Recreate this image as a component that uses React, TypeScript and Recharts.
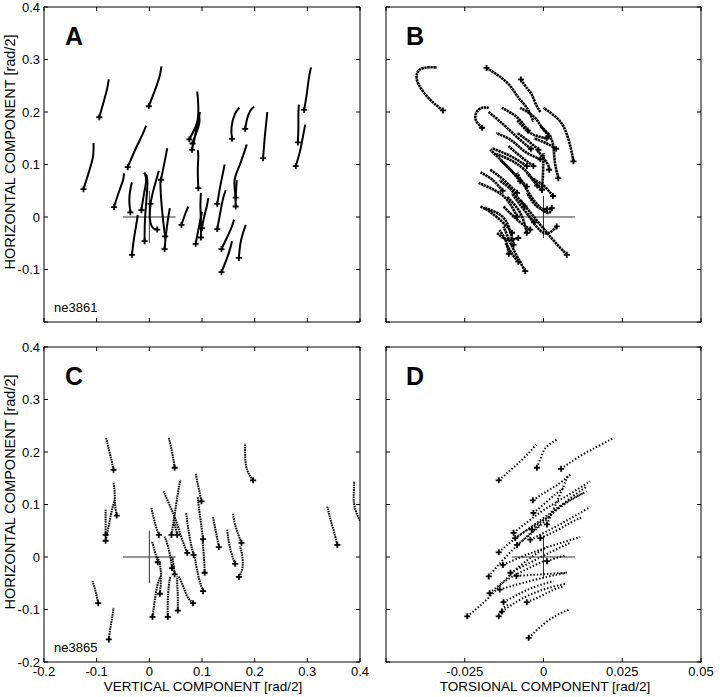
import React from "react";
import { LineChart, Line, XAxis, YAxis } from "recharts";

type Pt = [number, number];

/* ============================================================
   AXES
   ============================================================ */

const compTicks = [-0.2, -0.1, 0, 0.1, 0.2, 0.3, 0.4];
const torsTicks = [-0.05, -0.025, 0, 0.025, 0.05];

// small cross marking the origin (horizontal arm, vertical arm)
const crossCompH: Pt[] = [[-0.05, 0], [0.05, 0]];
const crossCompV: Pt[] = [[0, -0.05], [0, 0.05]];
const crossTorsH: Pt[] = [[-0.01, 0], [0.01, 0]];
const crossTorsV: Pt[] = [[0, -0.04], [0, 0.04]];

/* ============================================================
   TRACES — first point of each trace carries the "+" marker
   ============================================================ */

// A: vertical vs horizontal, ne3861
const tracesA: Pt[][] = [
  [[-0.125, 0.053], [-0.115, 0.085], [-0.107, 0.115], [-0.106, 0.141]],
  [[-0.095, 0.19], [-0.086, 0.222], [-0.08, 0.245], [-0.077, 0.262]],
  [[-0.001, 0.211], [0.012, 0.245], [0.02, 0.27], [0.023, 0.287]],
  [[-0.041, 0.095], [-0.026, 0.13], [-0.014, 0.155], [-0.006, 0.174]],
  [[-0.067, 0.019], [-0.057, 0.05], [-0.05, 0.07], [-0.048, 0.083]],
  [[-0.036, 0.009], [-0.038, 0.035], [-0.035, 0.058], [-0.033, 0.066]],
  [[-0.015, 0.013], [-0.01, 0.045], [-0.006, 0.07], [-0.009, 0.084]],
  [[-0.033, -0.072], [-0.029, -0.04], [-0.024, -0.01], [-0.022, 0.004]],
  [[-0.009, -0.046], [-0.008, 0.0], [-0.004, 0.055], [-0.005, 0.078], [-0.01, 0.084]],
  [[0.002, 0.025], [0.007, 0.048], [0.013, 0.07], [0.018, 0.088]],
  [[0.015, -0.024], [0.006, -0.02], [0.001, -0.002], [0.002, 0.025]],
  [[0.022, 0.071], [0.027, 0.095], [0.031, 0.115], [0.034, 0.131]],
  [[0.03, -0.037], [0.026, -0.005], [0.022, 0.04], [0.021, 0.068]],
  [[0.029, -0.061], [0.032, -0.03], [0.036, 0.0], [0.039, 0.017]],
  [[0.061, -0.015], [0.066, 0.0], [0.071, 0.013], [0.074, 0.02]],
  [[0.081, 0.128], [0.088, 0.16], [0.093, 0.2], [0.091, 0.239]],
  [[0.076, 0.148], [0.087, 0.17], [0.094, 0.19], [0.096, 0.2]],
  [[0.082, 0.14], [0.089, 0.16], [0.095, 0.18], [0.094, 0.198]],
  [[0.093, 0.055], [0.092, 0.09], [0.093, 0.115], [0.092, 0.128]],
  [[0.098, -0.039], [0.098, -0.01], [0.097, 0.02], [0.098, 0.046]],
  [[0.1, -0.021], [0.104, 0.0], [0.109, 0.02], [0.112, 0.036]],
  [[0.088, -0.051], [0.092, -0.03], [0.096, -0.01], [0.1, 0.01]],
  [[0.129, 0.025], [0.134, 0.055], [0.139, 0.08], [0.143, 0.1]],
  [[0.129, -0.023], [0.135, 0.01], [0.14, 0.035], [0.145, 0.051]],
  [[0.137, -0.061], [0.147, -0.04], [0.156, -0.02], [0.161, -0.005]],
  [[0.137, -0.105], [0.145, -0.085], [0.152, -0.065], [0.157, -0.046]],
  [[0.17, -0.078], [0.173, -0.05], [0.178, -0.03], [0.183, -0.015]],
  [[0.157, 0.149], [0.156, 0.17], [0.162, 0.195], [0.171, 0.208]],
  [[0.182, 0.168], [0.186, 0.188], [0.192, 0.203], [0.199, 0.21]],
  [[0.216, 0.112], [0.219, 0.15], [0.222, 0.18], [0.224, 0.2]],
  [[0.278, 0.097], [0.286, 0.125], [0.292, 0.155], [0.296, 0.176]],
  [[0.282, 0.142], [0.283, 0.17], [0.283, 0.195], [0.284, 0.214]],
  [[0.294, 0.204], [0.299, 0.235], [0.303, 0.265], [0.307, 0.285]],
  [[0.164, 0.02], [0.163, 0.045], [0.162, 0.071], [0.172, 0.1], [0.185, 0.138]],
  [[0.164, 0.037], [0.165, 0.055], [0.166, 0.07]],
];

// B: torsional vs horizontal, ne3861
const tracesB: Pt[][] = [
  [[-0.0319, 0.203], [-0.0359, 0.223], [-0.0396, 0.252], [-0.0401, 0.274], [-0.038, 0.284], [-0.0338, 0.285]],
  [[-0.0181, 0.284], [-0.014, 0.268], [-0.0105, 0.249], [-0.0079, 0.227], [-0.0053, 0.208], [-0.0032, 0.182]],
  [[-0.0072, 0.262], [-0.0052, 0.245], [-0.0037, 0.233], [-0.0026, 0.217], [-0.001, 0.2]],
  [[0.0095, 0.106], [0.0085, 0.135], [0.0063, 0.173], [0.003, 0.195], [0.0, 0.208]],
  [[-0.0195, 0.17], [-0.0215, 0.185], [-0.0212, 0.2], [-0.0195, 0.208], [-0.0174, 0.208]],
  [[-0.004, 0.13], [-0.008, 0.15], [-0.0125, 0.175], [-0.0174, 0.2]],
  [[-0.005, 0.165], [-0.0084, 0.19], [-0.0132, 0.208]],
  [[0.0016, 0.154], [-0.001, 0.175], [-0.0032, 0.192], [-0.0074, 0.208]],
  [[0.0047, 0.074], [0.0035, 0.11], [0.0026, 0.147], [-0.001, 0.173]],
  [[-0.0053, 0.097], [-0.0105, 0.116], [-0.0164, 0.131]],
  [[-0.0074, 0.068], [-0.0116, 0.097], [-0.0169, 0.128]],
  [[0.0018, 0.09], [0.0011, 0.103], [-0.0021, 0.128]],
  [[-0.0084, 0.046], [-0.0127, 0.071], [-0.0169, 0.09]],
  [[-0.0084, 0.001], [-0.0116, 0.033], [-0.0158, 0.052], [-0.0206, 0.065]],
  [[-0.0095, -0.053], [-0.0111, -0.018], [-0.0137, 0.004], [-0.0185, 0.017]],
  [[-0.0053, -0.03], [-0.0074, 0.008], [-0.0116, 0.039]],
  [[0.0026, 0.017], [0.0011, 0.008], [-0.0032, 0.033], [-0.0084, 0.084]],
  [[0.0042, -0.018], [0.0, -0.03], [-0.0053, 0.008]],
  [[0.0074, -0.072], [0.0011, -0.03], [-0.0074, 0.033]],
  [[-0.0058, -0.103], [-0.0095, -0.062], [-0.0127, -0.018]],
  [[-0.0005, 0.052], [-0.003, 0.068], [-0.0053, 0.084]],
  [[-0.0032, 0.097], [-0.0074, 0.116], [-0.0111, 0.135]],
  [[-0.0053, 0.058], [-0.0095, 0.084], [-0.0137, 0.109]],
  [[-0.0016, 0.128], [-0.0053, 0.147], [-0.0084, 0.16]],
  [[-0.008, -0.04], [-0.0116, -0.043], [-0.0148, -0.03]],
  [[-0.0042, -0.024], [-0.0084, -0.005], [-0.0127, 0.02]],
  [[0.0011, 0.015], [-0.0021, 0.02], [-0.0053, 0.046]],
  [[-0.0005, 0.052], [-0.0002, 0.077], [0.0, 0.122]],
  [[0.001, 0.15], [-0.0042, 0.16], [-0.0084, 0.185]],
  [[-0.01, -0.03], [-0.013, -0.01], [-0.017, 0.01], [-0.02, 0.02]],
  [[-0.006, 0.02], [-0.01, 0.05], [-0.014, 0.07]],
  [[-0.002, 0.06], [-0.006, 0.09], [-0.011, 0.11], [-0.015, 0.12]],
  [[-0.003, -0.01], [-0.007, 0.02], [-0.01, 0.045]],
  [[-0.011, -0.07], [-0.012, -0.045], [-0.014, -0.025]],
  [[-0.008, -0.085], [-0.01, -0.07], [-0.012, -0.05]],
  [[0.003, 0.04], [0.0, 0.06], [-0.004, 0.075]],
  [[-0.001, 0.11], [-0.006, 0.125], [-0.01, 0.145], [-0.015, 0.16]],
  [[0.004, 0.13], [0.001, 0.14], [-0.003, 0.15]],
  [[-0.013, 0.05], [-0.016, 0.07], [-0.02, 0.085]],
];

// C: vertical vs horizontal, ne3865
const tracesC: Pt[][] = [
  [[-0.068, 0.166], [-0.072, 0.185], [-0.077, 0.205], [-0.082, 0.227]],
  [[0.048, 0.17], [0.045, 0.19], [0.041, 0.21], [0.037, 0.227]],
  [[0.197, 0.146], [0.186, 0.165], [0.182, 0.19], [0.182, 0.216]],
  [[-0.062, 0.079], [-0.065, 0.1], [-0.066, 0.125], [-0.068, 0.141]],
  [[-0.083, 0.042], [-0.083, 0.06], [-0.083, 0.075], [-0.083, 0.09]],
  [[-0.083, 0.031], [-0.078, 0.055], [-0.072, 0.085], [-0.066, 0.109]],
  [[-0.097, -0.088], [-0.101, -0.07], [-0.105, -0.055], [-0.108, -0.046]],
  [[-0.077, -0.157], [-0.074, -0.135], [-0.07, -0.112], [-0.068, -0.097]],
  [[0.018, 0.042], [0.012, 0.06], [0.007, 0.08], [0.004, 0.093]],
  [[0.016, -0.01], [0.012, 0.005], [0.008, 0.02], [0.005, 0.03]],
  [[0.02, -0.07], [0.022, -0.045], [0.021, -0.02], [0.016, 0.0]],
  [[0.006, -0.114], [0.01, -0.085], [0.015, -0.055], [0.021, -0.037]],
  [[0.035, -0.114], [0.035, -0.085], [0.037, -0.055], [0.04, -0.037]],
  [[0.054, -0.102], [0.054, -0.075], [0.053, -0.05], [0.053, -0.037]],
  [[0.083, -0.088], [0.072, -0.075], [0.064, -0.055], [0.056, -0.037]],
  [[0.043, -0.021], [0.04, 0.0], [0.034, 0.025], [0.029, 0.039]],
  [[0.048, -0.033], [0.046, -0.015], [0.044, 0.0]],
  [[0.042, 0.042], [0.048, 0.08], [0.054, 0.12], [0.059, 0.147]],
  [[0.053, 0.042], [0.05, 0.055], [0.046, 0.071]],
  [[0.072, 0.008], [0.06, 0.04], [0.05, 0.071], [0.038, 0.1], [0.027, 0.125]],
  [[0.084, 0.004], [0.078, 0.03], [0.073, 0.06], [0.07, 0.084]],
  [[0.099, 0.106], [0.094, 0.13], [0.09, 0.148], [0.088, 0.16]],
  [[0.102, 0.034], [0.098, 0.065], [0.094, 0.095], [0.092, 0.115]],
  [[0.105, -0.03], [0.104, -0.005], [0.102, 0.02], [0.101, 0.034]],
  [[0.102, -0.065], [0.094, -0.04], [0.088, -0.01], [0.086, 0.004]],
  [[0.132, 0.019], [0.128, 0.04], [0.124, 0.06], [0.121, 0.076]],
  [[0.163, -0.013], [0.155, 0.01], [0.15, 0.035], [0.148, 0.052]],
  [[0.17, -0.038], [0.177, -0.02], [0.176, 0.005], [0.172, 0.02]],
  [[0.175, 0.027], [0.168, 0.045], [0.162, 0.065], [0.159, 0.082]],
  [[0.357, 0.023], [0.35, 0.05], [0.343, 0.075], [0.338, 0.096]],
  [[0.412, 0.055], [0.399, 0.071], [0.39, 0.095], [0.388, 0.115], [0.389, 0.144]],
];

// D: torsional vs horizontal, ne3865
const tracesD: Pt[][] = [
  [[-0.0142, 0.146], [-0.01, 0.168], [-0.006, 0.19], [-0.0023, 0.214]],
  [[-0.0021, 0.17], [-0.0008, 0.19], [0.001, 0.21], [0.0047, 0.225]],
  [[0.0056, 0.168], [0.011, 0.19], [0.017, 0.21], [0.0224, 0.227]],
  [[-0.0034, 0.108], [0.001, 0.125], [0.005, 0.14], [0.0085, 0.157]],
  [[-0.0095, 0.046], [-0.001, 0.085], [0.007, 0.115], [0.0148, 0.144]],
  [[-0.009, 0.036], [-0.001, 0.07], [0.006, 0.1], [0.0137, 0.125]],
  [[-0.0042, 0.033], [0.003, 0.055], [0.009, 0.075], [0.0148, 0.095]],
  [[-0.001, 0.036], [0.004, 0.05], [0.0085, 0.065], [0.0122, 0.076]],
  [[0.0011, 0.062], [0.0035, 0.095], [0.006, 0.13], [0.0079, 0.157]],
  [[-0.0142, 0.009], [-0.009, 0.035], [-0.003, 0.06], [0.0021, 0.077]],
  [[-0.0129, -0.015], [-0.005, 0.005], [0.003, 0.022], [0.0116, 0.038]],
  [[-0.0174, -0.037], [-0.012, 0.0], [-0.006, 0.035], [-0.001, 0.062]],
  [[-0.0105, -0.03], [-0.004, -0.01], [0.0025, 0.01], [0.0085, 0.027]],
  [[0.0011, -0.008], [0.004, -0.002], [0.007, 0.003]],
  [[-0.0086, -0.036], [-0.003, -0.034], [0.002, -0.032], [0.0074, -0.03]],
  [[-0.0139, -0.062], [-0.007, -0.05], [0.001, -0.038], [0.0079, -0.029]],
  [[-0.0171, -0.069], [-0.012, -0.045], [-0.006, -0.025], [0.0, -0.008]],
  [[-0.0127, -0.086], [-0.007, -0.068], [-0.002, -0.055], [0.0032, -0.046]],
  [[-0.0132, -0.104], [-0.007, -0.08], [0.0, -0.062], [0.0069, -0.051]],
  [[-0.0053, -0.086], [-0.001, -0.075], [0.003, -0.063], [0.0063, -0.056]],
  [[-0.0242, -0.113], [-0.017, -0.075], [-0.009, -0.025], [0.0011, 0.02]],
  [[-0.0142, -0.113], [-0.0128, -0.098], [-0.011, -0.09]],
  [[-0.0047, -0.154], [0.0, -0.128], [0.0045, -0.11], [0.0082, -0.1]],
  [[-0.0084, 0.023], [-0.001, 0.06], [0.006, 0.1], [0.0137, 0.134]],
  [[-0.0037, 0.052], [0.002, 0.08], [0.0075, 0.104], [0.0127, 0.122]],
  [[-0.0032, 0.084], [0.0, 0.1], [0.0035, 0.118], [0.0069, 0.134]],
];

/* ============================================================
   SHARED CHROME
   ============================================================ */

const FONT = "'Liberation Sans', Arial, Helvetica, sans-serif";
const INK = "#000";

const toRows = (pts: Pt[]) => pts.map(([x, y]) => ({ x, y }));
const fmtAll = (v: number) => String(v);
const fmtNone = () => "";

function PlusMark(props: any) {
  const { cx, cy } = props;
  if (cx == null || cy == null) return <g />;
  return (
    <path
      d={`M${cx - 3},${cy}h6M${cx},${cy - 3}v6`}
      stroke={INK}
      strokeWidth={1.8}
      fill="none"
    />
  );
}

function Panel({
  traces,
  xDomain,
  xTicks,
  xFmt,
  yFmt,
  crossH,
  crossV,
  width,
  height,
  marginRight,
  bottomH,
  lineWidth,
  dash,
}: {
  traces: Pt[][];
  xDomain: [number, number];
  xTicks: number[];
  xFmt: (v: number) => string;
  yFmt: (v: number) => string;
  crossH: Pt[];
  crossV: Pt[];
  width: number;
  height: number;
  marginRight: number;
  bottomH: number;
  lineWidth: number;
  dash?: string;
}) {
  const tickStyle = { fill: INK, fontSize: 13, fontFamily: FONT };
  const ends = traces.map((t) => ({ x: t[0][0], y: t[0][1] }));
  return (
    <LineChart
      width={width}
      height={height}
      margin={{ top: 6, right: marginRight, bottom: 0, left: 0 }}
    >
      <XAxis
        type="number"
        dataKey="x"
        domain={xDomain}
        ticks={xTicks}
        interval={0}
        allowDataOverflow
        height={bottomH}
        stroke={INK}
        tickSize={-4}
        tickMargin={9}
        tick={tickStyle}
        tickFormatter={xFmt}
      />
      <XAxis
        xAxisId="top"
        orientation="top"
        type="number"
        dataKey="x"
        domain={xDomain}
        ticks={xTicks}
        interval={0}
        allowDataOverflow
        height={1}
        stroke={INK}
        tickSize={-4}
        tickFormatter={fmtNone}
      />
      <YAxis
        type="number"
        dataKey="y"
        domain={[-0.2, 0.4]}
        ticks={compTicks}
        interval={0}
        allowDataOverflow
        width={44}
        stroke={INK}
        tickSize={-4}
        tickMargin={8}
        tick={tickStyle}
        tickFormatter={yFmt}
      />
      <YAxis
        yAxisId="right"
        orientation="right"
        type="number"
        domain={[-0.2, 0.4]}
        ticks={compTicks}
        interval={0}
        allowDataOverflow
        width={1}
        stroke={INK}
        tickSize={-4}
        tickFormatter={fmtNone}
      />
      <Line data={toRows(crossH)} dataKey="y" stroke="#333" strokeWidth={1} dot={false} isAnimationActive={false} />
      <Line data={toRows(crossV)} dataKey="y" stroke="#333" strokeWidth={1} dot={false} isAnimationActive={false} />
      {traces.map((t, i) => (
        <Line
          key={i}
          data={toRows(t)}
          dataKey="y"
          type="natural"
          stroke={INK}
          strokeWidth={lineWidth}
          strokeDasharray={dash}
          dot={false}
          isAnimationActive={false}
        />
      ))}
      <Line
        data={ends}
        dataKey="y"
        stroke="none"
        dot={<PlusMark />}
        isAnimationActive={false}
      />
    </LineChart>
  );
}

/* ============================================================
   MAIN
   ============================================================ */

const yFmtA = (v: number) => (v === -0.2 ? "" : String(v));
const xFmtD = (v: number) => (v === -0.05 ? "" : String(v));

export default function App() {
  const letter = { fontFamily: FONT, fontSize: 25, fontWeight: 700, fill: INK };
  const small = { fontFamily: FONT, fontSize: 13, fill: INK };
  const title = { fontFamily: FONT, fontSize: 13.5, fill: INK };
  return (
    <div
      style={{
        position: "absolute",
        left: 0,
        top: 0,
        width: 720,
        height: 697,
        background: "#fff",
        overflow: "hidden",
      }}
    >
      <div style={{ position: "absolute", left: 0, top: 0 }}>
        <Panel
          traces={tracesA}
          xDomain={[-0.2, 0.4]}
          xTicks={compTicks}
          xFmt={fmtNone}
          yFmt={yFmtA}
          crossH={crossCompH}
          crossV={crossCompV}
          width={361}
          height={340}
          marginRight={0}
          bottomH={18}
          lineWidth={2}
        />
      </div>
      <div style={{ position: "absolute", left: 342, top: 0 }}>
        <Panel
          traces={tracesB}
          xDomain={[-0.05, 0.05]}
          xTicks={torsTicks}
          xFmt={fmtNone}
          yFmt={fmtNone}
          crossH={crossTorsH}
          crossV={crossTorsV}
          width={360}
          height={340}
          marginRight={0}
          bottomH={18}
          lineWidth={2.6}
          dash="2.4 0.6"
        />
      </div>
      <div style={{ position: "absolute", left: 0, top: 340 }}>
        <Panel
          traces={tracesC}
          xDomain={[-0.2, 0.4]}
          xTicks={compTicks}
          xFmt={fmtAll}
          yFmt={fmtAll}
          crossH={crossCompH}
          crossV={crossCompV}
          width={375}
          height={357}
          marginRight={14}
          bottomH={35}
          lineWidth={2}
          dash="1.6 0.8"
        />
      </div>
      <div style={{ position: "absolute", left: 342, top: 340 }}>
        <Panel
          traces={tracesD}
          xDomain={[-0.05, 0.05]}
          xTicks={torsTicks}
          xFmt={xFmtD}
          yFmt={fmtNone}
          crossH={crossTorsH}
          crossV={crossTorsV}
          width={372}
          height={357}
          marginRight={12}
          bottomH={35}
          lineWidth={2}
          dash="1.4 2"
        />
      </div>
      <svg
        width={720}
        height={697}
        style={{ position: "absolute", left: 0, top: 0, pointerEvents: "none" }}
      >
        <text x={65} y={45} {...letter}>A</text>
        <text x={406} y={45} {...letter}>B</text>
        <text x={65} y={385} {...letter}>C</text>
        <text x={406} y={385} {...letter}>D</text>
        <text x={54} y={312} {...small}>ne3861</text>
        <text x={54} y={652} {...small}>ne3865</text>
        <text
          transform="translate(15,152) rotate(-90)"
          textAnchor="middle"
          {...title}
          fontSize={14.5}
        >
          HORIZONTAL COMPONENT [rad/2]
        </text>
        <text
          transform="translate(15,492) rotate(-90)"
          textAnchor="middle"
          {...title}
          fontSize={14.5}
        >
          HORIZONTAL COMPONENT [rad/2]
        </text>
        <text x={203} y={691} textAnchor="middle" {...title}>
          VERTICAL COMPONENT [rad/2]
        </text>
        <text x={545} y={691} textAnchor="middle" {...title}>
          TORSIONAL COMPONENT [rad/2]
        </text>
      </svg>
    </div>
  );
}
